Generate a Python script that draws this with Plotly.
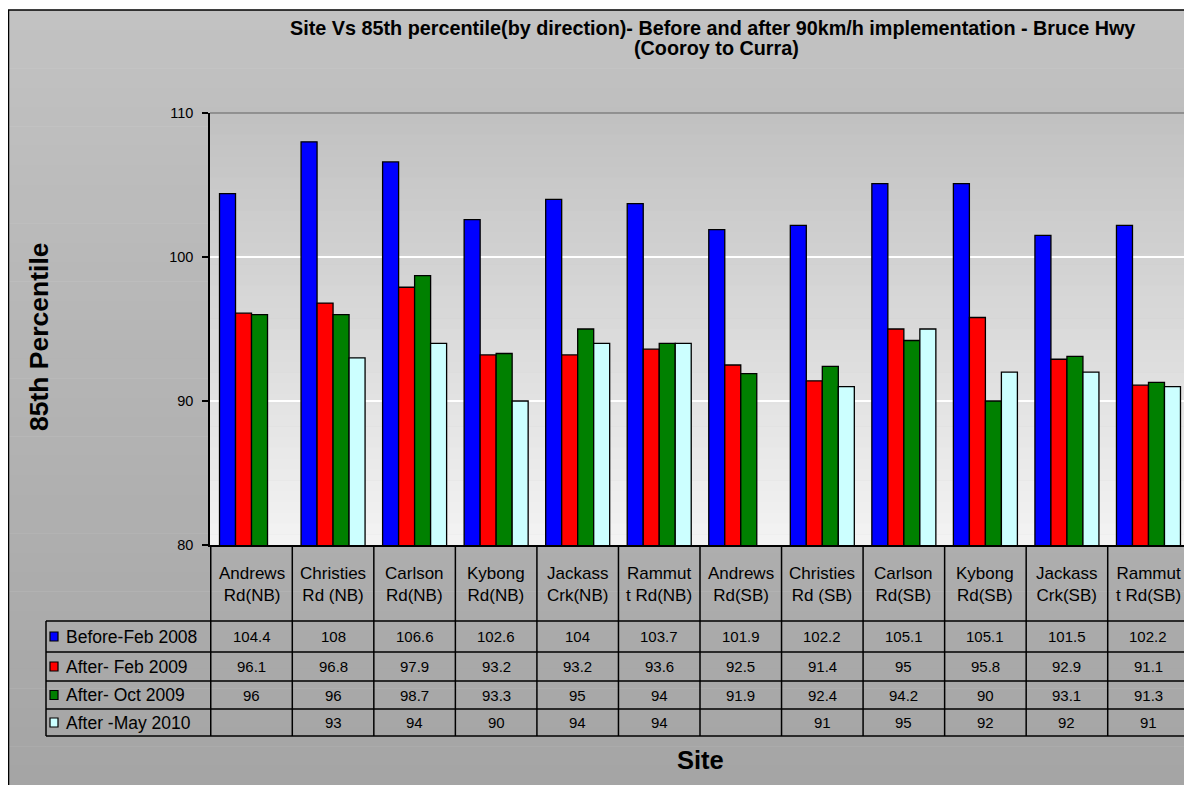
import plotly.graph_objects as go

categories = ["Andrews Rd(NB)", "Christies Rd (NB)", "Carlson Rd(NB)", "Kybong Rd(NB)",
              "Jackass Crk(NB)", "Rammutt Rd(NB)", "Andrews Rd(SB)", "Christies Rd (SB)",
              "Carlson Rd(SB)", "Kybong Rd(SB)", "Jackass Crk(SB)", "Rammutt Rd(SB)"]
header_labels = ["Andrews<br>Rd(NB)", "Christies<br>Rd (NB)", "Carlson<br>Rd(NB)", "Kybong<br>Rd(NB)",
                 "Jackass<br>Crk(NB)", "Rammut<br>t Rd(NB)", "Andrews<br>Rd(SB)", "Christies<br>Rd (SB)",
                 "Carlson<br>Rd(SB)", "Kybong<br>Rd(SB)", "Jackass<br>Crk(SB)", "Rammut<br>t Rd(SB)"]
series_names = ["Before-Feb 2008", "After- Feb 2009", "After- Oct 2009", "After -May 2010"]
before_feb_2008 = [104.4, 108, 106.6, 102.6, 104, 103.7, 101.9, 102.2, 105.1, 105.1, 101.5, 102.2]
after_feb_2009 = [96.1, 96.8, 97.9, 93.2, 93.2, 93.6, 92.5, 91.4, 95, 95.8, 92.9, 91.1]
after_oct_2009 = [96, 96, 98.7, 93.3, 95, 94, 91.9, 92.4, 94.2, 90, 93.1, 91.3]
after_may_2010 = [None, 93, 94, 90, 94, 94, None, 91, 95, 92, 92, 91]
series_values = [before_feb_2008, after_feb_2009, after_oct_2009, after_may_2010]
series_colors = ["#0000ff", "#ff0000", "#008000", "#ccffff"]
y_ticks = [80, 90, 100, 110]
title_line1 = "Site Vs 85th percentile(by direction)- Before and after 90km/h implementation - Bruce Hwy"
title_line2 = "(Cooroy to Curra)"

# page is offset by the 8px body margin
OFF = 8
PW, PH = 1192, 785
W, H = PW - OFF, PH - OFF
L, R, T, B = 210, 1190, 113, 545
FONT = "Arial, Liberation Sans, sans-serif"


def xp(p):
    return (p - L) / (R - L)


def yp(p):
    return (B - p) / (B - T)


def hexmix(c1, c2, t):
    a = [int(c1[i:i + 2], 16) for i in (1, 3, 5)]
    b = [int(c2[i:i + 2], 16) for i in (1, 3, 5)]
    return "#" + "".join("%02x" % round(a[k] + (b[k] - a[k]) * t) for k in range(3))


fig = go.Figure()
for name, vals, col in zip(series_names, series_values, series_colors):
    fig.add_trace(go.Bar(x=categories, y=vals, name=name,
                         marker=dict(color=col, line=dict(color="black", width=1.3))))

shapes = []
n = 40
y0o, y1o = 10, 785
for i in range(n):
    a = y0o + (y1o - y0o) * i / n
    b = y0o + (y1o - y0o) * (i + 1) / n + 0.5
    shapes.append(dict(type="rect", xref="paper", yref="paper", x0=xp(7), x1=xp(1192),
                       y0=yp(a), y1=yp(b), fillcolor=hexmix("#c2c2c2", "#a5a5a5", i / (n - 1)),
                       line=dict(width=0), layer="below"))
for i in range(n):
    a = T + (B - T) * i / n
    b = T + (B - T) * (i + 1) / n + 0.5
    shapes.append(dict(type="rect", xref="paper", yref="paper", x0=0, x1=xp(1191),
                       y0=yp(a), y1=yp(b), fillcolor=hexmix("#c1c1c1", "#f3f3f3", i / (n - 1)),
                       line=dict(width=0), layer="below"))
shapes.append(dict(type="rect", xref="paper", yref="paper", x0=xp(8.5), x1=xp(1191.5),
                   y0=yp(10), y1=yp(790), line=dict(color="black", width=1.5), layer="below"))
shapes.append(dict(type="line", xref="paper", yref="paper", x0=0, x1=xp(1191), y0=1, y1=1,
                   line=dict(color="#808080", width=1.5)))
shapes.append(dict(type="line", xref="paper", yref="paper", x0=xp(1191), x1=xp(1191), y0=1, y1=0,
                   line=dict(color="#808080", width=1.5)))

# table
row_edges = [545, 621, 652, 681, 709, 736]
table_left = 46
for i in range(len(categories) + 1):
    shapes.append(dict(type="line", xref="x", yref="paper", x0=i - 0.5, x1=i - 0.5,
                       y0=yp(545), y1=yp(736), line=dict(color="black", width=1.5)))
for r in row_edges[1:]:
    shapes.append(dict(type="line", xref="paper", yref="paper", x0=xp(table_left), x1=xp(1191),
                       y0=yp(r), y1=yp(r), line=dict(color="black", width=1.5)))
shapes.append(dict(type="line", xref="paper", yref="paper", x0=xp(table_left), x1=xp(table_left),
                   y0=yp(621), y1=yp(736), line=dict(color="black", width=1.5)))

annotations = []
for j, lab in enumerate(header_labels):
    annotations.append(dict(x=categories[j], xref="x", y=yp(584), yref="paper", text=lab,
                            showarrow=False, xanchor="center", yanchor="middle",
                            font=dict(family=FONT, size=17, color="black")))
for k, (name, vals, col) in enumerate(zip(series_names, series_values, series_colors)):
    yc = (row_edges[k + 1] + row_edges[k + 2]) / 2
    shapes.append(dict(type="rect", xref="paper", yref="paper", x0=xp(50), x1=xp(58),
                       y0=yp(yc - 4.5), y1=yp(yc + 4.5), fillcolor=col,
                       line=dict(color="black", width=1.2)))
    annotations.append(dict(x=xp(64), xref="paper", y=yp(yc), yref="paper", text=name,
                            showarrow=False, xanchor="left", yanchor="middle",
                            font=dict(family=FONT, size=17.5, color="black")))
    for j, v in enumerate(vals):
        if v is None:
            continue
        annotations.append(dict(x=categories[j], xref="x", y=yp(yc), yref="paper", text=str(v),
                                showarrow=False, xanchor="center", yanchor="middle",
                                font=dict(family=FONT, size=15, color="black")))

annotations.append(dict(x=xp(712), xref="paper", y=yp(28), yref="paper",
                        text="<b>" + title_line1 + "</b>",
                        showarrow=False, xanchor="center", yanchor="middle",
                        font=dict(family=FONT, size=19.8, color="black")))
annotations.append(dict(x=xp(716), xref="paper", y=yp(48), yref="paper",
                        text="<b>" + title_line2 + "</b>",
                        showarrow=False, xanchor="center", yanchor="middle",
                        font=dict(family=FONT, size=19.8, color="black")))
annotations.append(dict(x=xp(39), xref="paper", y=yp(337), yref="paper", text="<b>85th Percentile</b>",
                        showarrow=False, textangle=-90, xanchor="center", yanchor="middle",
                        font=dict(family=FONT, size=26.5, color="black")))
annotations.append(dict(x=xp(700), xref="paper", y=yp(760), yref="paper", text="<b>Site</b>",
                        showarrow=False, xanchor="center", yanchor="middle",
                        font=dict(family=FONT, size=25.5, color="black")))

fig.update_layout(
    width=W, height=H,
    margin=dict(l=L - OFF, r=PW - R, t=T - OFF, b=PH - B, pad=0),
    paper_bgcolor="white", plot_bgcolor="rgba(0,0,0,0)",
    showlegend=False,
    barmode="group", bargap=0.215, bargroupgap=0,
    font=dict(family=FONT, size=13, color="black"),
    shapes=shapes, annotations=annotations,
    xaxis=dict(showticklabels=False, ticks="", showgrid=False, showline=True,
               linecolor="black", linewidth=2, zeroline=False, fixedrange=True),
    yaxis=dict(range=[80, 110], tickvals=y_ticks, ticks="outside", ticklen=6, tickwidth=1.5,
               tickcolor="black", showline=True, linecolor="black", linewidth=1.5,
               showgrid=True, gridcolor="white", gridwidth=2, zeroline=False,
               ticklabelstandoff=6,
               tickfont=dict(family=FONT, size=14.5, color="black"), fixedrange=True),
)

fig.write_html("out.html")
